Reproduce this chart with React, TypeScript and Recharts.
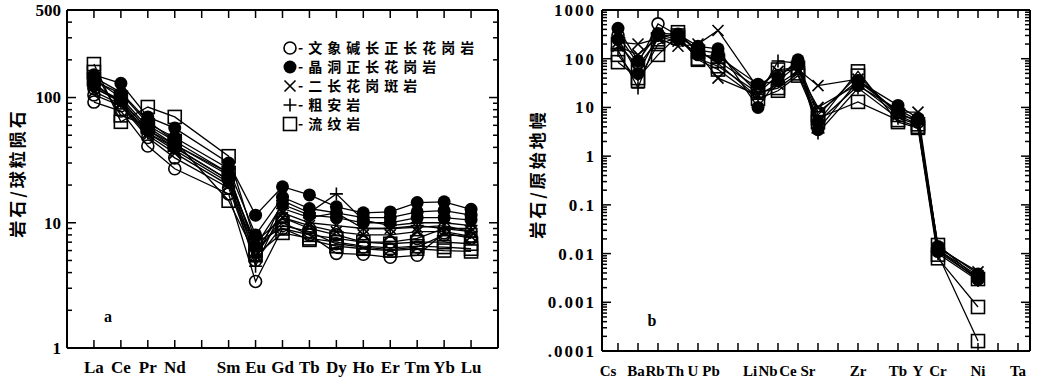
import { Line, LineChart, XAxis, YAxis } from "recharts";

// ---- panel a: chondrite-normalised REE ----
const reeLabels = ["La", "Ce", "Pr", "Nd", "", "Sm", "Eu", "Gd", "Tb", "Dy", "Ho", "Er", "Tm", "Yb", "Lu"];

const reeGraphic1 = [92, 78, 41, 27, null, 17, 3.4, 9, 8, 5.7, 5.6, 5.3, 5.5, 8.3, 7.5];
const reeGraphic2 = [105, 86, 48, 33, null, 19, 5, 9.5, 8.5, 6.8, 6.4, 6.1, 6.4, 8, 7.8];
const reeGraphic3 = [118, 96, 55, 40, null, 22, 7, 11, 9, 8, 7, 7, 7.5, 9, 8.5];

const reeDruse1 = [152, 130, 70, 57, null, 30, 11.5, 19.4, 16.7, 13.4, 12, 12.2, 14.5, 14.7, 12.8];
const reeDruse2 = [135, 108, 62, 48, null, 27, 8, 16, 13, 12, 11, 11, 12.2, 12.5, 11.5];
const reeDruse3 = [124, 95, 55, 42, null, 24, 6.5, 14, 11.5, 11, 10, 10, 11, 11, 10.5];

const reeMonzo1 = [130, 90, 52, 38, null, 21, 6, 12, 10, 9.5, 9, 9, 9.2, 9.5, 8.5];
const reeMonzo2 = [112, 88, 50, 36, null, 20, 5.5, 11, 9.5, 8.5, 8, 8, 8.5, 8.5, 7.8];

const reeTrachy1 = [145, 110, 65, 45, null, 25, 5, 15, 12, 17, 10.5, 9.5, 10, 10, 9.5];
const reeTrachy2 = [120, 92, 52, 40, null, 22, 4.5, 13, 11, 12, 9, 9, 9.5, 9, 9];

const reeRhyo1 = [185, 64, 84, 70, null, 34, 7, 9, 7.3, 6.5, 6.2, 6, 6.2, 6, 5.9];
const reeRhyo2 = [160, 72, 60, 45, null, 15, 5.5, 8.3, 7.5, 7, 6.5, 6.3, 6.5, 6.4, 6.2];
const reeRhyo3 = [140, 100, 58, 42, null, 25, 6, 10, 8, 7.5, 7, 6.8, 7, 7, 6.8];

// ---- panel b: primitive-mantle-normalised trace elements ----
const traceLabels = ["Cs", "Ba", "Rb", "Th", "U", "Pb", "", "Li", "Nb", "Ce", "Sr", "", "Zr", "", "Tb", "Y", "Cr", "", "Ni", "", "Ta"];

const trGraphic1 = [300, 80, 520, 300, 150, 130, null, 20, 45, 80, 8, null, 35, null, 8, 5, 0.012, null, 0.003, null, null];
const trDruse1 = [420, 90, 330, 320, 180, 160, null, 10, 40, 95, 3.5, null, 35, null, 11, 6, 0.014, null, 0.0038, null, null];
const trDruse2 = [250, 50, 300, 260, 120, 110, null, 30, 35, 75, 5, null, 28, null, 9, 5.5, 0.011, null, 0.003, null, null];
const trMonzo1 = [220, 200, 260, 180, 200, 380, null, 25, 55, 60, 28, null, 38, null, 8, 8, 0.013, null, 0.0042, null, null];
const trMonzo2 = [180, 120, 280, 230, 130, 40, null, 18, 30, 55, 10, null, 30, null, 7, 5.5, 0.012, null, 0.0035, null, null];
const trTrachy1 = [150, 25, 300, 300, 150, 80, null, 16, 90, 80, 3, null, 25, null, 6, 4.5, 0.01, null, 0.0028, null, null];
const trRhyo1 = [85, 40, 120, 300, 95, 60, null, 15, 22, 45, 5, null, 55, null, 5, 3.8, 0.008, null, 0.0008, null, null];
const trRhyo2 = [120, 35, 200, 270, 100, 70, null, 20, 25, 50, 6, null, 13, null, 5.5, 4, 0.0095, null, 0.00016, null, null];
const trRhyo3 = [200, 70, 250, 350, 140, 90, null, 25, 60, 65, 7, null, 45, null, 7, 4.5, 0.015, null, 0.003, null, null];

const legendItems = [
  { kind: "open", label: "文象碱长正长花岗岩" },
  { kind: "filled", label: "晶洞正长花岗岩" },
  { kind: "cross", label: "二长花岗斑岩" },
  { kind: "plus", label: "粗安岩" },
  { kind: "square", label: "流纹岩" },
];

const reeSeries = [
  { key: "g1", kind: "open", values: reeGraphic1 },
  { key: "g2", kind: "open", values: reeGraphic2 },
  { key: "g3", kind: "open", values: reeGraphic3 },
  { key: "m1", kind: "cross", values: reeMonzo1 },
  { key: "m2", kind: "cross", values: reeMonzo2 },
  { key: "t1", kind: "plus", values: reeTrachy1 },
  { key: "t2", kind: "plus", values: reeTrachy2 },
  { key: "r1", kind: "square", values: reeRhyo1 },
  { key: "r2", kind: "square", values: reeRhyo2 },
  { key: "r3", kind: "square", values: reeRhyo3 },
  { key: "d1", kind: "filled", values: reeDruse1 },
  { key: "d2", kind: "filled", values: reeDruse2 },
  { key: "d3", kind: "filled", values: reeDruse3 },
];

const traceSeries = [
  { key: "g1", kind: "open", values: trGraphic1 },
  { key: "m1", kind: "cross", values: trMonzo1 },
  { key: "m2", kind: "cross", values: trMonzo2 },
  { key: "t1", kind: "plus", values: trTrachy1 },
  { key: "r1", kind: "square", values: trRhyo1 },
  { key: "r2", kind: "square", values: trRhyo2 },
  { key: "r3", kind: "square", values: trRhyo3 },
  { key: "d1", kind: "filled", values: trDruse1 },
  { key: "d2", kind: "filled", values: trDruse2 },
];

const reeYLabels: Record<number, string> = { 1: "1", 10: "10", 100: "100", 500: "500" };
const traceYLabels: Record<number, string> = {
  0.0001: ".0001", 0.001: "0.001", 0.01: "0.01", 0.1: "0.1", 1: "1", 10: "10", 100: "100", 1000: "1000",
};

function buildRows(labels: string[], series: { key: string; values: (number | null)[] }[]) {
  return labels.map((_, i) => {
    const row: Record<string, number | null> = { x: i + 1 };
    series.forEach((s) => {
      row[s.key] = s.values[i];
    });
    return row;
  });
}

function logTicks(lo: number, hi: number) {
  const out: number[] = [];
  for (let e = Math.floor(Math.log10(lo)); e <= Math.ceil(Math.log10(hi)); e++) {
    for (let m = 1; m <= 9; m++) {
      const v = Number((m * Math.pow(10, e)).toPrecision(6));
      if (v >= lo && v <= hi) out.push(v);
    }
  }
  return out;
}

const serif = "'Liberation Serif', 'Times New Roman', serif";
const cjk = "'Noto Sans CJK SC', sans-serif";

function Marker({ kind, cx, cy }: { kind: string; cx: number; cy: number }) {
  const sw = 1.6;
  if (kind === "open") return <circle cx={cx} cy={cy} r={6} fill="none" stroke="#000" strokeWidth={sw} />;
  if (kind === "filled") return <circle cx={cx} cy={cy} r={6.5} fill="#000" />;
  if (kind === "cross")
    return <path d={`M${cx - 5.5},${cy - 5.5}L${cx + 5.5},${cy + 5.5}M${cx + 5.5},${cy - 5.5}L${cx - 5.5},${cy + 5.5}`} stroke="#000" strokeWidth={sw} />;
  if (kind === "plus")
    return <path d={`M${cx - 6.5},${cy}L${cx + 6.5},${cy}M${cx},${cy - 6.5}L${cx},${cy + 6.5}`} stroke="#000" strokeWidth={sw} />;
  return <rect x={cx - 6.5} y={cy - 6.5} width={13} height={13} fill="none" stroke="#000" strokeWidth={sw} />;
}

const isMajor = (v: number) => Math.abs(Math.log10(v) - Math.round(Math.log10(v))) < 1e-6;

function makeYTick(side: "left" | "right", labels: Record<number, string>, spacing: number) {
  return (props: any) => {
    const { x, y, payload } = props;
    const v = payload.value as number;
    const len = isMajor(v) ? 9 : 5;
    const dir = side === "left" ? 1 : -1;
    const label = side === "left" ? labels[v] : undefined;
    return (
      <g>
        <line x1={x} x2={x + dir * len} y1={y} y2={y} stroke="#000" strokeWidth={1.5} />
        {label && (
          <text x={x - 6} y={y} dy="0.35em" textAnchor="end" fontFamily={serif} fontWeight="bold" fontSize={17} letterSpacing={spacing} fill="#000">
            {label}
          </text>
        )}
      </g>
    );
  };
}

function makeXTick(side: "top" | "bottom", labels: string[], fontSize = 17, nudge: Record<string, number> = {}) {
  return (props: any) => {
    const { x, y, payload } = props;
    const label = labels[(payload.value as number) - 1] || "";
    const dir = side === "bottom" ? -1 : 1;
    return (
      <g>
        <line x1={x} x2={x} y1={y} y2={y + dir * 8} stroke="#000" strokeWidth={1.5} />
        {side === "bottom" && label && (
          <text x={x + (nudge[label] || 0)} y={y + 25} textAnchor="middle" fontFamily={serif} fontWeight="bold" fontSize={fontSize} fill="#000">
            {label}
          </text>
        )}
      </g>
    );
  };
}

const dotFor = (kind: string) => (props: any) => {
  const { cx, cy, index, dataKey, value } = props;
  if (value == null || cx == null || cy == null) return <g key={`${dataKey}-${index}`} />;
  return (
    <g key={`${dataKey}-${index}`}>
      <Marker kind={kind} cx={cx} cy={cy} />
    </g>
  );
};

const axisLine = { stroke: "#000", strokeWidth: 2 };
const traceNudge: Record<string, number> = {
  Cs: -10, Ba: -2, Rb: -3, Th: -3, U: -5, Pb: -7, Li: -8, Nb: -10, Ce: -10, Sr: -10,
};

function SpiderPanel(props: {
  width: number;
  height: number;
  margin: { top: number; right: number; bottom: number; left: number };
  labels: string[];
  series: { key: string; kind: string; values: (number | null)[] }[];
  xDomain: [number, number];
  yDomain: [number, number];
  yLabels: Record<number, string>;
  labelSpacing: number;
  xFont: number;
  nudge?: Record<string, number>;
}) {
  const { width, height, margin, labels, series, xDomain, yDomain, yLabels, labelSpacing, xFont, nudge } = props;
  const rows = buildRows(labels, series);
  const xTicks = labels.map((_, i) => i + 1);
  const yTicks = logTicks(yDomain[0], yDomain[1]);
  if (!yTicks.includes(yDomain[1])) yTicks.push(yDomain[1]);
  // axes take 1px each, so shrink margins to keep the plot box where it should be
  const m = { top: margin.top - 1, right: margin.right - 1, bottom: margin.bottom - 1, left: margin.left - 1 };
  return (
    <LineChart width={width} height={height} data={rows} margin={m}>
      <XAxis xAxisId="b" dataKey="x" type="number" domain={xDomain} ticks={xTicks} interval={0} height={1}
        tickSize={0} tickMargin={0} axisLine={axisLine} tickLine={false} tick={makeXTick("bottom", labels, xFont, nudge)} allowDataOverflow />
      <XAxis xAxisId="t" orientation="top" dataKey="x" type="number" domain={xDomain} ticks={xTicks} interval={0} height={1}
        tickSize={0} tickMargin={0} axisLine={axisLine} tickLine={false} tick={makeXTick("top", labels)} allowDataOverflow />
      <YAxis yAxisId="l" type="number" scale="log" domain={yDomain} ticks={yTicks} interval={0} width={1}
        tickSize={0} tickMargin={0} axisLine={axisLine} tickLine={false} tick={makeYTick("left", yLabels, labelSpacing)} allowDataOverflow />
      <YAxis yAxisId="r" orientation="right" type="number" scale="log" domain={yDomain} ticks={yTicks} interval={0} width={1}
        tickSize={0} tickMargin={0} axisLine={axisLine} tickLine={false} tick={makeYTick("right", yLabels, labelSpacing)} allowDataOverflow />
      {series.map((s) => (
        <Line key={s.key} xAxisId="b" yAxisId="l" dataKey={s.key} type="linear" stroke="#000" strokeWidth={1.3}
          connectNulls dot={dotFor(s.kind)} activeDot={false} isAnimationActive={false} />
      ))}
    </LineChart>
  );
}

export default function App() {
  return (
    <div style={{ position: "absolute", left: 0, top: 0, width: 1041, height: 384, background: "#fff" }}>
      <div style={{ position: "absolute", left: 0, top: 0 }}>
        <SpiderPanel width={520} height={384} margin={{ top: 10, right: 22, bottom: 36, left: 67 }}
          labels={reeLabels} series={reeSeries} xDomain={[0, 16]} yDomain={[1, 500]} yLabels={reeYLabels} labelSpacing={0} xFont={17} />
      </div>
      <div style={{ position: "absolute", left: 520, top: 0 }}>
        <SpiderPanel width={521} height={384} margin={{ top: 10, right: 11, bottom: 33, left: 82 }}
          labels={traceLabels} series={traceSeries} xDomain={[0.2, 21.6]} yDomain={[0.0001, 1000]} yLabels={traceYLabels}
          labelSpacing={2} xFont={15} nudge={traceNudge} />
      </div>
      <svg width={1041} height={384} style={{ position: "absolute", left: 0, top: 0, pointerEvents: "none" }}>
        <text transform="translate(16,173) rotate(-90)" textAnchor="middle" dominantBaseline="central" fontFamily={cjk}
          fontWeight="bold" fontSize={17} letterSpacing={3}>岩石/球粒陨石</text>
        <text transform="translate(536,174) rotate(-90)" textAnchor="middle" dominantBaseline="central" fontFamily={cjk}
          fontWeight="bold" fontSize={17} letterSpacing={3}>岩石/原始地幔</text>
        <text x={108} y={322} textAnchor="middle" fontFamily={serif} fontWeight="bold" fontSize={16}>a</text>
        <text x={652} y={326} textAnchor="middle" fontFamily={serif} fontWeight="bold" fontSize={16}>b</text>
        {legendItems.map((item, i) => (
          <g key={item.kind}>
            <Marker kind={item.kind} cx={290} cy={48 + i * 19} />
            <text x={298} y={48 + i * 19} dy="0.36em" fontFamily={cjk} fontSize={14} fontWeight="bold" letterSpacing={5}>
              -{item.label}
            </text>
          </g>
        ))}
      </svg>
    </div>
  );
}
